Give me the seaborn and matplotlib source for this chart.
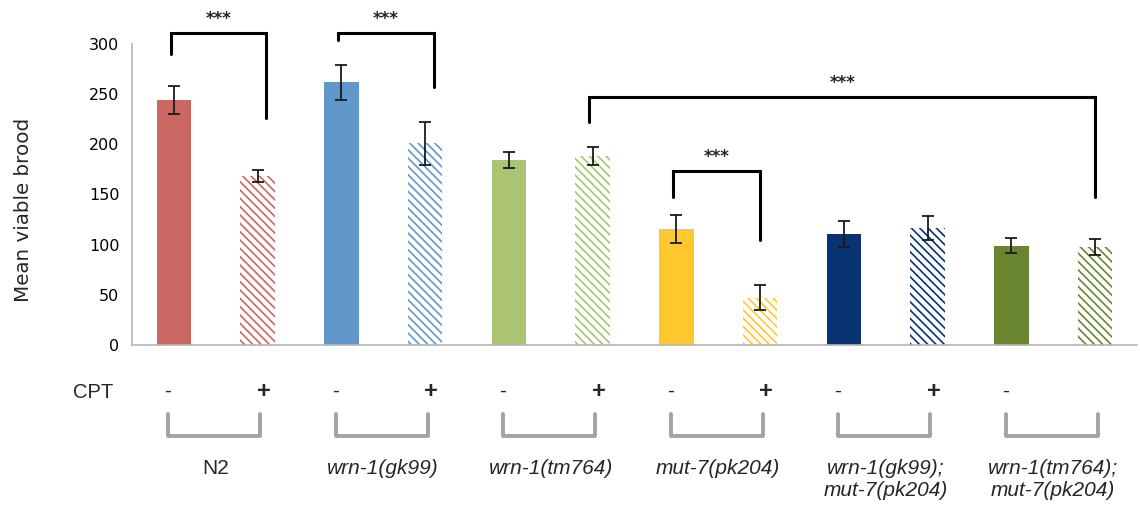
import numpy as np
import pandas as pd
import matplotlib
matplotlib.use("Agg")
import matplotlib.pyplot as plt
import matplotlib.transforms as mtransforms
import seaborn as sns

# ---------------- data ----------------
genotypes = ["N2", "wrn-1(gk99)", "wrn-1(tm764)", "mut-7(pk204)",
             "wrn-1(gk99);\nmut-7(pk204)", "wrn-1(tm764);\nmut-7(pk204)"]
genotype_italic = [False, True, True, True, True, True]
cpt = ["-", "+"]
cpt_signs = ["-", "+", "-", "+", "-", "+", "-", "+", "-", "+", "-", ""]
means = [244, 168, 262, 201, 184.5, 188.5, 116, 47, 110.5, 116.5, 99, 97.5]
errors = [14, 6, 17.5, 21.5, 8.3, 8.6, 14, 12.5, 13, 11.7, 7.2, 8]
group_colors = ["#CB6762", "#6197C9", "#ABC471", "#FFC82F", "#073373", "#69852F"]
yticks = [0, 50, 100, 150, 200, 250, 300]
# significance comparisons: (left bar, right bar, top, left leg end, right leg end, label)
sig_pairs = [(0, 1, 311, 290, 226, "***"),
             (2, 3, 311, 304, 257, "***"),
             (5, 11, 247, 222, 148, "***"),
             (6, 7, 173, 148, 104.5, "***")]

# ---------------- build frame ----------------
bar_ids = [f"{g}|{c}" for g in genotypes for c in cpt]
df = pd.DataFrame({"bar": bar_ids, "value": means, "err": errors})
palette = {b: group_colors[i // 2] for i, b in enumerate(bar_ids)}

sns.set_theme(style="white")
plt.rcParams["font.family"] = ["DejaVu Sans"]
plt.rcParams["hatch.linewidth"] = 1.2

fig = plt.figure(figsize=(11.4, 5.09), dpi=100)
ax = fig.add_axes([132 / 1140, 1 - 345 / 509, 1005 / 1140, 301 / 509])

sns.barplot(data=df, x="bar", y="value", hue="bar", order=bar_ids,
            hue_order=bar_ids, palette=palette, legend=False, width=0.41,
            errorbar=None, ax=ax, saturation=1)

for i, p in enumerate(ax.patches):
    col = group_colors[i // 2]
    if i % 2 == 1:
        p.set_facecolor("white")
        p.set_edgecolor(col)
        p.set_hatch("\\\\\\\\")
        p.set_linewidth(0)
    else:
        p.set_edgecolor(col)
        p.set_linewidth(0)

xs = np.arange(len(bar_ids))
ax.errorbar(xs, df["value"], yerr=df["err"], fmt="none", ecolor="#1a1a1a",
            elinewidth=1.3, capsize=4.3, capthick=1.3, zorder=5)

# axes styling
ax.set_xlim(-0.5, len(bar_ids) - 0.5)
ax.set_ylim(0, 300)
ax.set_yticks(yticks)
ax.set_yticklabels([str(v) for v in yticks], fontsize=11.5)
ax.set_xticks(np.arange(-0.5, len(bar_ids), 1))
ax.set_xticklabels([])
ax.set_xlabel("")
ax.set_ylabel("Mean viable brood", fontsize=14.3)
ax.yaxis.set_label_coords((33 - 132) / 1005, (345 - 210) / 301)
for s in ["top", "right"]:
    ax.spines[s].set_visible(False)
for s in ["left", "bottom"]:
    ax.spines[s].set_color("#B5B5B5")
    ax.spines[s].set_linewidth(1.2)
ax.tick_params(axis="both", direction="out", length=5, width=1.2,
               color="#B5B5B5", labelcolor="black")
ax.tick_params(axis="y", pad=4)

# significance brackets
for (a, b, top, ya, yb, lab) in sig_pairs:
    xa = a - 0.04
    xb = b + (0.1 if b - a == 1 and a < 4 else 0.0)
    ax.plot([xa, xa, xb, xb], [ya, top, top, yb], color="black", lw=2.2,
            solid_joinstyle="miter", clip_on=False, zorder=6)
    ax.text((xa + xb) / 2, top + 14, lab, ha="center", va="center",
            fontsize=12, fontweight="bold", clip_on=False)

# CPT row, grey brackets and genotype labels below the axis
trans = mtransforms.blended_transform_factory(ax.transData, ax.transAxes)

def ay(p):
    return (345 - p) / 301.0

ax.text(-0.5 - (132 - 93) / 83.75, ay(393), "CPT", transform=trans,
        ha="center", va="center", fontsize=14.5, family="Liberation Sans")
for i, s in enumerate(cpt_signs):
    if not s:
        continue
    off = -0.07 if s == "-" else 0.07
    if s == "-":
        ax.text(i + off, ay(391), s, transform=trans, ha="center", va="center",
                fontsize=15, family="Liberation Sans")
    else:
        ax.text(i + off, ay(391), s, transform=trans, ha="center", va="center",
                fontsize=17, fontweight="bold", family="Liberation Sans")

for g, name in enumerate(genotypes):
    x0 = 2 * g - 0.07
    x1 = 2 * g + 1 + 0.03
    ax.plot([x0, x0, x1, x1], [ay(414), ay(436), ay(436), ay(414)],
            transform=trans, color="#A3A3A3", lw=2.8, clip_on=False,
            solid_joinstyle="round", solid_capstyle="round")
    ax.text(2 * g + 0.5, ay(459), name, transform=trans, ha="center", va="top",
            fontsize=15, family="Liberation Sans",
            style="italic" if genotype_italic[g] else "normal",
            linespacing=1.2)

fig.savefig("out.png", dpi=100)
